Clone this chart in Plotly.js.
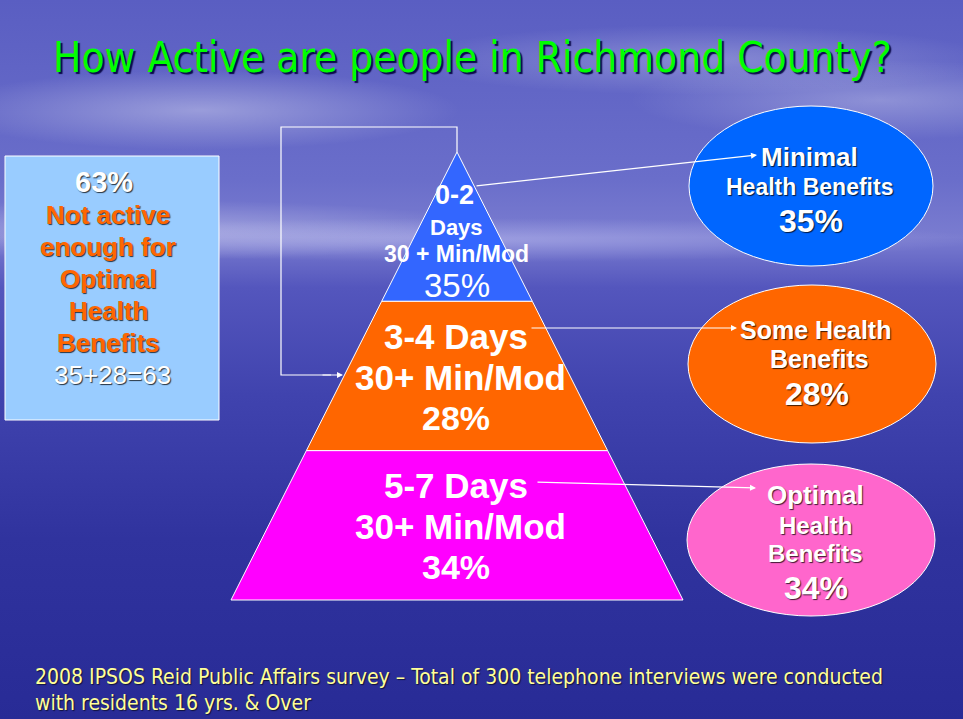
<!DOCTYPE html>
<html>
<head>
<meta charset="utf-8">
<script src="https://cdn.plot.ly/plotly-3.0.1.min.js"></script>
<style>
html,body{margin:0;padding:0;width:963px;height:719px;overflow:hidden;}
body{
 background:
  radial-gradient(ellipse 260px 40px at 200px 110px, rgba(255,255,255,0.35), rgba(255,255,255,0) 100%),
  radial-gradient(ellipse 300px 35px at 700px 60px, rgba(255,255,255,0.25), rgba(255,255,255,0) 100%),
  radial-gradient(ellipse 350px 30px at 150px 230px, rgba(255,255,255,0.30), rgba(255,255,255,0) 100%),
  radial-gradient(ellipse 500px 22px at 480px 240px, rgba(220,220,255,0.35), rgba(255,255,255,0) 100%),
  radial-gradient(ellipse 250px 40px at 880px 100px, rgba(255,255,255,0.28), rgba(255,255,255,0) 100%),
  linear-gradient(to bottom, #5a5ec2 0%, #6a6eca 25%, #7a7cd0 33%, #5456bd 40%, #4043ae 55%, #30339e 75%, #282b96 100%);
}
#chart{width:963px;height:719px;}
</style>
</head>
<body>
<div id="chart"></div>
<script>
// ---- data ----
const titleText = "How Active are people in Richmond County?";
const levelDays = ["0-2 Days", "3-4 Days", "5-7 Days"];
const levelActivity = ["30 + Min/Mod", "30+ Min/Mod", "30+ Min/Mod"];
const levelPct = [35, 28, 34];
const benefitLines = [["Minimal", "Health Benefits"], ["Some Health", "Benefits"], ["Optimal", "Health", "Benefits"]];
const notActiveParts = [35, 28];
const notActiveLines = ["Not active", "enough for", "Optimal", "Health", "Benefits"];
const sourceLines = ["2008 IPSOS Reid Public Affairs survey \u2013 Total of 300 telephone interviews were conducted", "with residents 16 yrs. & Over"];

// ---- style ----
const levelColors = ["#3366ff", "#ff6600", "#ff00ff"];
const ellipseColors = ["#0066ff", "#ff6600", "#ff66cc"];
const ARIAL = "Liberation Sans, Arial, sans-serif";
const NARROW = "Liberation Sans Narrow, Arial Narrow, DejaVu Sans Condensed, sans-serif";
const SH = "1px 1px 1px rgba(0,0,0,0.75)";

// pyramid geometry
const apexX = 457, apexY = 152, baseY = 600, baseHalf = 226;
const n = levelDays.length;
const lh = (baseY - apexY) / n;
const halfAt = y => baseHalf * (y - apexY) / (baseY - apexY);

const traces = [];
for (let i = 0; i < n; i++) {
  const y0 = apexY + i * lh, y1 = apexY + (i + 1) * lh;
  const h0 = halfAt(y0), h1 = halfAt(y1);
  traces.push({
    type: "scatter", mode: "lines", fill: "toself",
    x: [apexX - h0, apexX + h0, apexX + h1, apexX - h1, apexX - h0],
    y: [y0, y0, y1, y1, y0],
    fillcolor: levelColors[i], line: {color: "#ffffff", width: 1},
    hoverinfo: "skip", showlegend: false
  });
}
// bracket line from apex round to middle level
const bx = 281, by = 127, midArrowY = 375;
traces.push({
  type: "scatter", mode: "lines",
  x: [apexX, apexX, bx, bx, bx + 50],
  y: [apexY, by, by, midArrowY, midArrowY],
  line: {color: "#ffffff", width: 1.2}, hoverinfo: "skip", showlegend: false
});

const ellipses = [
  {cx: 811, cy: 186, rx: 122, ry: 80},
  {cx: 812, cy: 364, rx: 124, ry: 79},
  {cx: 811, cy: 540, rx: 124, ry: 76}
];
const shapes = ellipses.map((e, i) => ({
  type: "circle", xref: "x", yref: "y",
  x0: e.cx - e.rx, x1: e.cx + e.rx, y0: e.cy - e.ry, y1: e.cy + e.ry,
  fillcolor: ellipseColors[i], line: {color: "#ffffff", width: 1}, layer: "above"
}));
// left info box
shapes.push({type: "rect", xref: "x", yref: "y", x0: 5, x1: 219, y0: 156, y1: 420,
  fillcolor: "#99ccff", line: {color: "#ffffff", width: 1}, layer: "above"});

const ann = [];
function txt(x, y, text, size, color, opts) {
  opts = opts || {};
  ann.push({
    x: x, y: y, xref: "x", yref: "y", text: text, showarrow: false,
    xanchor: opts.xanchor || "center", yanchor: "middle",
    font: {family: opts.family || ARIAL, size: size, color: color, weight: opts.weight || "bold", shadow: opts.shadow || "none"}
  });
}
// title
txt(472, 57, titleText, 42, "#00ff00", {family: NARROW, weight: "normal", shadow: "2px 2px 1px rgba(0,0,60,0.9)"});

// pyramid text
txt(454, 195, levelDays[0].split(" ")[0], 27, "#ffffff");
txt(456, 227, levelDays[0].split(" ")[1], 22, "#ffffff");
txt(456, 254, levelActivity[0], 23, "#ffffff");
txt(457, 285, levelPct[0] + "%", 33, "#ffffff", {weight: "normal"});
const midY = [null, 336, 485];
for (let i = 1; i < n; i++) {
  txt(456, midY[i], levelDays[i], 35, "#ffffff");
  txt(460, midY[i] + 41, levelActivity[i], 35, "#ffffff");
  txt(456, midY[i] + 82, levelPct[i] + "%", 34, "#ffffff");
}

// ellipse texts
txt(809, 157, benefitLines[0][0], 26, "#ffffff", {shadow: SH});
txt(809, 187, benefitLines[0][1], 23, "#ffffff", {shadow: SH});
txt(811, 221, levelPct[0] + "%", 32, "#ffffff", {shadow: SH});
txt(815, 330, benefitLines[1][0], 25, "#ffffff", {shadow: SH});
txt(819, 359, benefitLines[1][1], 25, "#ffffff", {shadow: SH});
txt(817, 394, levelPct[1] + "%", 32, "#ffffff", {shadow: SH});
txt(815, 495, benefitLines[2][0], 26, "#ffffff", {shadow: SH});
txt(815, 525, benefitLines[2][1], 24, "#ffffff", {shadow: SH});
txt(815, 553, benefitLines[2][2], 24, "#ffffff", {shadow: SH});
txt(816, 588, levelPct[2] + "%", 32, "#ffffff", {shadow: SH});

// left box text
const total = notActiveParts.reduce((a, b) => a + b, 0);
txt(104, 182, total + "%", 29, "#ffffff", {shadow: SH});
notActiveLines.forEach((l, k) => txt(108, 215 + k * 32, l, 26, "#ff6600", {shadow: SH}));
txt(112, 375, notActiveParts.join("+") + "=" + total, 26, "#ffffff", {weight: "normal", shadow: SH});

// source footnote
sourceLines.forEach((l, k) => txt(33, 677 + k * 26, l, 21, "#ffff99", {family: NARROW, weight: "normal", xanchor: "left", shadow: "1px 1px 1px rgba(0,0,0,0.6)"}));

// arrows
function arrow(x0, y0, x1, y1) {
  ann.push({x: x1, y: y1, ax: x0, ay: y0, xref: "x", yref: "y", axref: "x", ayref: "y",
    showarrow: true, arrowhead: 2, arrowsize: 1, arrowwidth: 1.2, arrowcolor: "#ffffff", text: ""});
}
arrow(475, 186, 757, 155);
arrow(530, 328, 737, 328);
arrow(536, 482, 756, 488);
arrow(bx + 40, midArrowY, 343, midArrowY);

const layout = {
  width: 963, height: 719,
  margin: {l: 0, r: 0, t: 0, b: 0},
  paper_bgcolor: "rgba(0,0,0,0)", plot_bgcolor: "rgba(0,0,0,0)",
  xaxis: {range: [0, 963], visible: false, fixedrange: true},
  yaxis: {range: [719, 0], visible: false, fixedrange: true},
  shapes: shapes, annotations: ann, showlegend: false
};
Plotly.newPlot("chart", traces, layout, {displayModeBar: false, staticPlot: true});
</script>
</body>
</html>
